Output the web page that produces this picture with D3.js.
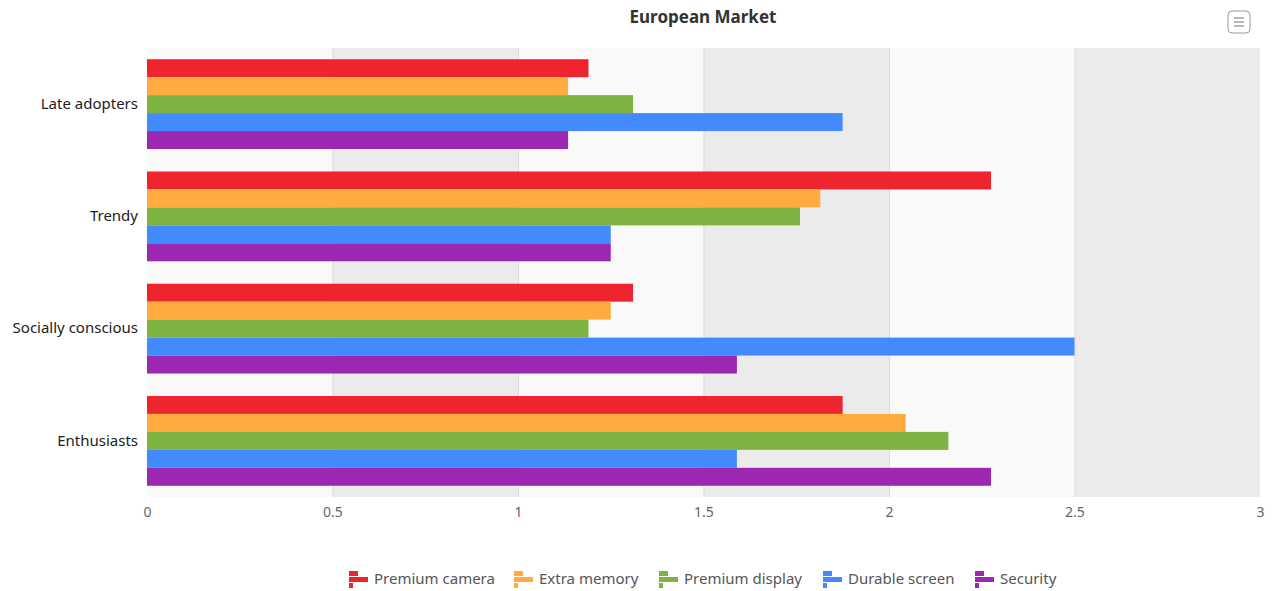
<!DOCTYPE html>
<html>
<head>
<meta charset="utf-8">
<script src="https://cdn.jsdelivr.net/npm/d3@7"></script>
<style>
  body { margin: 0; background: #fff; font-family: "Segoe UI", "Noto Sans", sans-serif; }
</style>
</head>
<body>
<div id="chart"></div>
<script>
// chart data
var segments = ["Late adopters", "Trendy", "Socially conscious", "Enthusiasts"];
var features = ["Premium camera", "Extra memory", "Premium display", "Durable screen", "Security"];
var featureColors = ["#ee242f", "#ffab40", "#7cb342", "#448aff", "#9c27b0"];
// one array per feature, in segment order
var premiumCamera = [1.19, 2.275, 1.31, 1.875];
var extraMemory = [1.135, 1.815, 1.25, 2.045];
var premiumDisplay = [1.31, 1.76, 1.19, 2.16];
var durableScreen = [1.875, 1.25, 2.5, 1.59];
var security = [1.135, 1.25, 1.59, 2.275];
var xTicks = [0, 0.5, 1, 1.5, 2, 2.5, 3];

var seriesValues = [premiumCamera, extraMemory, premiumDisplay, durableScreen, security];

var svgWidth = 1277;
var svgHeight = 591;

var margin = { top: 48, bottom: 94, left: 147, right: 17 };
var width = svgWidth - margin.left - margin.right;
var height = svgHeight - margin.top - margin.bottom;

var svg = d3.select("#chart")
    .append("svg")
    .attr("width", svgWidth)
    .attr("height", svgHeight);

// title
svg.append("text")
    .attr("x", 703)
    .attr("y", 23)
    .attr("text-anchor", "middle")
    .attr("font-size", "17px")
    .attr("font-weight", "bold")
    .attr("fill", "#333")
    .text("European Market");

// menu button
var menu = svg.append("g").attr("transform", "translate(1228, 11)");
menu.append("rect")
    .attr("width", 22).attr("height", 22).attr("rx", 4)
    .attr("fill", "#fff").attr("stroke", "#999").attr("stroke-width", 1);
[7, 11, 15].forEach(function(y) {
    menu.append("line")
        .attr("x1", 6).attr("x2", 16).attr("y1", y).attr("y2", y)
        .attr("stroke", "#888").attr("stroke-width", 1.2);
});

var chartGroup = svg.append("g")
    .attr("transform", `translate(${margin.left}, ${margin.top})`);

var xScale = d3.scaleLinear()
    .domain([0, 3])
    .range([0, width]);

var yScale = d3.scaleBand()
    .domain(segments)
    .range([0, height])
    .paddingInner(0.2)
    .paddingOuter(0.1);

var ySub = d3.scaleBand()
    .domain(features)
    .range([0, yScale.bandwidth()]);

// alternating bands
chartGroup.selectAll(".band")
    .data(xTicks.slice(0, -1))
    .enter()
    .append("rect")
    .attr("class", "band")
    .attr("x", d => xScale(d))
    .attr("y", 0)
    .attr("width", d => xScale(d + 0.5) - xScale(d))
    .attr("height", height)
    .attr("fill", (d, i) => i % 2 ? "#ebebeb" : "#f9f9f9");

// grid lines
chartGroup.selectAll(".grid")
    .data(xTicks.slice(1, -1))
    .enter()
    .append("line")
    .attr("x1", d => xScale(d) + 0.5)
    .attr("x2", d => xScale(d) + 0.5)
    .attr("y1", 0)
    .attr("y2", height)
    .attr("stroke", "#dcdcdc")
    .attr("stroke-width", 1);

// bars
var groups = chartGroup.selectAll(".seg")
    .data(segments)
    .enter()
    .append("g")
    .attr("transform", d => `translate(0, ${yScale(d)})`);

groups.selectAll("rect")
    .data((seg, si) => features.map((f, fi) => ({ feature: f, fi: fi, value: seriesValues[fi][si] })))
    .enter()
    .append("rect")
    .attr("x", 0)
    .attr("y", d => ySub(d.feature))
    .attr("width", d => xScale(d.value))
    .attr("height", ySub.bandwidth())
    .attr("fill", d => featureColors[d.fi]);

// x axis
var xAxis = d3.axisBottom(xScale)
    .tickValues(xTicks)
    .tickSize(0)
    .tickPadding(10)
    .tickFormat(d3.format("~g"));

chartGroup.append("g")
    .attr("transform", `translate(0, ${height})`)
    .call(xAxis)
    .call(g => g.select(".domain").remove())
    .selectAll("text")
    .attr("font-family", "'Segoe UI', 'Noto Sans', sans-serif")
    .attr("font-size", "14px")
    .attr("fill", "#666");

// y axis
var yAxis = d3.axisLeft(yScale)
    .tickSize(0)
    .tickPadding(9);

chartGroup.append("g")
    .call(yAxis)
    .call(g => g.select(".domain").remove())
    .selectAll("text")
    .attr("font-family", "'Segoe UI', 'Noto Sans', sans-serif")
    .attr("font-size", "15px")
    .attr("fill", "#222");

// legend
var legendX = [349, 514, 659, 823, 975];
var legend = svg.selectAll(".legend")
    .data(features)
    .enter()
    .append("g")
    .attr("transform", (d, i) => `translate(${legendX[i]}, 571)`);

legend.append("rect").attr("x", 0).attr("y", 0).attr("width", 9).attr("height", 5)
    .attr("fill", (d, i) => featureColors[i]);
legend.append("rect").attr("x", 0).attr("y", 6).attr("width", 19).attr("height", 5)
    .attr("fill", (d, i) => featureColors[i]);
legend.append("rect").attr("x", 0).attr("y", 12).attr("width", 4).attr("height", 5)
    .attr("fill", (d, i) => featureColors[i]);

legend.append("text")
    .attr("x", 25)
    .attr("y", 13)
    .attr("font-size", "15px")
    .attr("fill", "#555")
    .text(d => d);
</script>
</body>
</html>
